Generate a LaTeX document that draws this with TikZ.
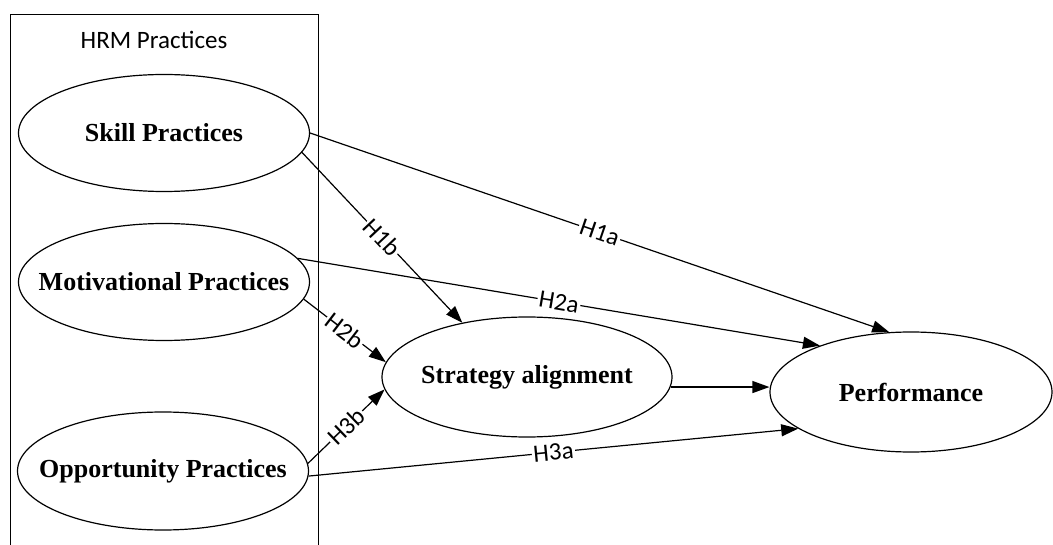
\documentclass[tikz,border=0pt]{standalone}
\usepackage{fontspec}
\setmainfont{Liberation Serif}
\newfontfamily\calibri{Carlito}
\usetikzlibrary{arrows.meta,shapes.geometric}
\newcommand{\zw}[1]{\makebox[0pt]{#1}}

\begin{document}
\begin{tikzpicture}[x=1pt,y=-1pt,
  construct/.style={draw, ellipse, line width=1.2pt, inner sep=0pt,
    minimum width=291pt, minimum height=117pt,
    font=\bfseries\fontsize{26}{28}\selectfont},
  link/.style={draw, line width=1.2pt, -{Triangle[length=17pt,width=12pt]}},
  plain/.style={draw, line width=1.2pt},
  hyp/.style={sloped, fill=white, inner sep=1.5pt,
    font=\calibri\fontsize{25}{28}\selectfont},
  grouptitle/.style={inner sep=0pt, font=\calibri\fontsize{25}{28}\selectfont}]

  \useasboundingbox (0,0) rectangle (1053,545);
  \clip (0,0) rectangle (1053,545);
  \fill[white] (0,0) rectangle (1053,545);

  % HRM practices group frame (runs off the bottom edge)
  \node[draw, line width=1.2pt, anchor=north west, inner sep=0pt,
        minimum width=308pt, minimum height=560pt] (group) at (10,14) {};
  \node[grouptitle] (hrm) at (154,40) {HRM Practices};

  % constructs
  \node[construct] (skill) at (164,133) {\zw{Skill Practices}};
  \node[construct] (mot)   at (164,282) {\zw{Motivational Practices}};
  \node[construct, minimum height=118pt] (opp) at (163,471) {\zw{Opportunity Practices}};
  \node[construct, minimum width=290pt, minimum height=120pt] (strat) at (527,377) {\zw{Strategy alignment}};
  \node[construct, minimum width=282pt, minimum height=120pt] (perf) at (911,392) {\zw{Performance}};

  % hypothesised paths
  \draw[link] (skill.east) -- node[hyp] {H1a} (perf.110);
  \draw[link] (skill.-8)   -- node[hyp] {H1b} (strat.140);
  \draw[link] (mot.10)     -- node[hyp] {H2a} (perf.153);
  \draw[link] (mot.-7)     -- node[hyp] {H2b} (strat.174);
  \draw[link] (opp.3)      -- node[hyp] {H3b} (strat.185);
  \draw[link] (opp.-2)     -- node[hyp] {H3a} (perf.198);
  \draw[link] (strat.-4)   -- (strat.-4 -| perf.west);
\end{tikzpicture}
\end{document}
